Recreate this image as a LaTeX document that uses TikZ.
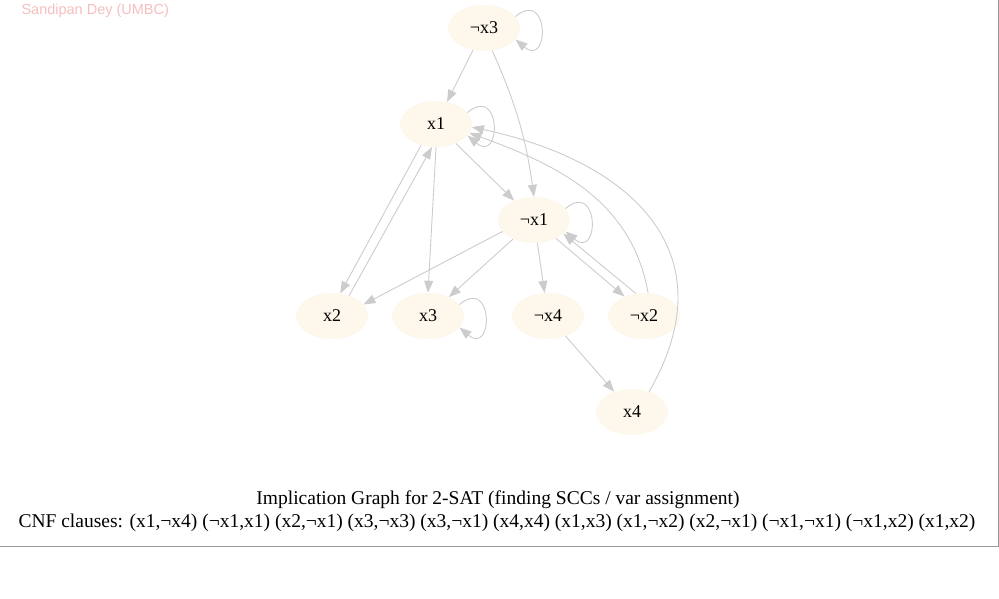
\documentclass[tikz,border=0pt]{standalone}
\usepackage{fontspec}
\setmainfont{Liberation Serif}
\newfontfamily\credfont{Liberation Sans}
\usetikzlibrary{arrows.meta,shapes.geometric}
\definecolor{nodefill}{RGB}{253,248,235}
\definecolor{edgegray}{RGB}{204,204,204}
\definecolor{credpink}{RGB}{245,190,190}
\tikzset{
  lit/.style={ellipse,fill=nodefill,minimum width=72pt,minimum height=46pt,inner sep=0pt,font=\fontsize{18}{18}\selectfont},
  imp/.style={draw=edgegray,line width=0.9pt,-{Triangle[length=12pt,width=9pt]}},
  selfloop/.style={imp,looseness=5}
}
\begin{document}
\begin{tikzpicture}[x=1pt,y=-1pt]
\useasboundingbox (0,0) rectangle (999,599);
\draw[gray!80,line width=0.8pt] (0,546) -- (998,546) -- (998,0);
\node[font=\credfont\fontsize{14.5}{14.5}\selectfont,text=credpink,anchor=west] (cred) at (18,11) {Sandipan Dey (UMBC)};
% literals
\node[lit] (nx3) at (484,28) {¬x3};
\node[lit] (x1) at (436,124) {x1};
\node[lit] (nx1) at (534,220) {¬x1};
\node[lit] (x2) at (332,316) {x2};
\node[lit] (x3) at (428,316) {x3};
\node[lit] (nx4) at (548,316) {¬x4};
\node[lit] (nx2) at (644,316) {¬x2};
\node[lit] (x4) at (632,412) {x4};
% implications
\draw[selfloop] (nx3.20) to[out=40,in=-40] (nx3.-20);
\draw[selfloop] (x1.20) to[out=40,in=-40] (x1.-20);
\draw[selfloop] (nx1.20) to[out=40,in=-40] (nx1.-20);
\draw[selfloop] (x3.20) to[out=40,in=-40] (x3.-20);
\draw[imp] (nx3) -- (x1);
\draw[imp] (nx3.-70) to[bend left=8] (nx1.north);
\draw[imp] (x1) -- (nx1);
\draw[imp] (x1.-125) -- (x2.70);
\draw[imp] (x2.50) -- (x1.-100);
\draw[imp] (x1.-90) -- (x3.90);
\draw[imp] (nx1.-160) -- (x2.20);
\draw[imp] (nx1) -- (x3);
\draw[imp] (nx1) -- (nx4);
\draw[imp] (nx1.-40) -- (nx2.135);
\draw[imp] (nx2.110) -- (nx1.-25);
\draw[imp] (nx2.80) to[out=100,in=-20] (x1.-15);
\draw[imp] (x4.50) to[out=60,in=-12,looseness=1.3] (x1.-5);
\draw[imp] (nx4) -- (x4);
% caption
\node[font=\fontsize{19.5}{19.5}\selectfont] (title) at (498,500) {Implication Graph for 2-SAT (finding SCCs / var assignment)};
\node[font=\fontsize{19.5}{19.5}\selectfont] (cnf) at (497,523) {CNF clauses: (x1,¬x4) (¬x1,x1) (x2,¬x1) (x3,¬x3) (x3,¬x1) (x4,x4) (x1,x3) (x1,¬x2) (x2,¬x1) (¬x1,¬x1) (¬x1,x2) (x1,x2)};
\end{tikzpicture}
\end{document}
